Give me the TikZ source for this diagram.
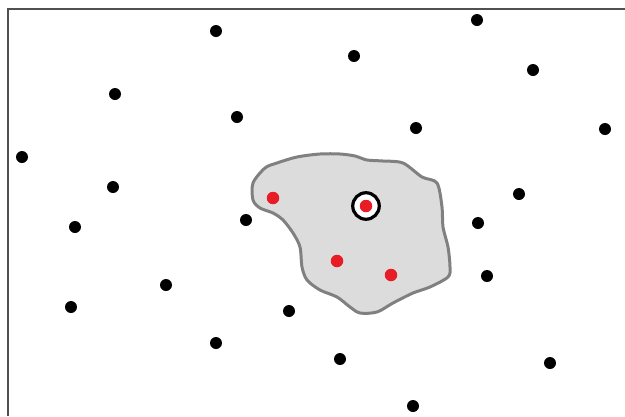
\documentclass[tikz,border=0pt]{standalone}
\usepackage{tikz}
\definecolor{framegray}{RGB}{80,80,80}
\definecolor{blobline}{RGB}{128,128,128}
\definecolor{blobfill}{RGB}{220,220,220}
\definecolor{ptred}{RGB}{232,28,36}

\begin{document}
\begin{tikzpicture}[x=1pt,y=-1pt,
  dot/.style={circle,fill=black,inner sep=0pt,minimum size=12pt},
  reddot/.style={circle,fill=ptred,inner sep=0pt,minimum size=12.5pt},
  ring/.style={circle,draw=black,line width=3.2pt,fill=white,inner sep=0pt,minimum size=26.5pt}]
\useasboundingbox (0,0) rectangle (625,416);
\draw[framegray,line width=1.5pt] (8,416) -- (8,9) -- (625,9);
% region
\draw[blobline,fill=blobfill,line width=3pt] plot[smooth cycle,tension=0.5] coordinates {
  (253,183) (265,168) (277,163) (297,157) (320,154) (340,154) (355,156)
  (367,160) (383,161) (403,163) (422,177) (437,183) (442,207) (443,227)
  (448,247) (450,267) (448,277) (430,287) (413,293) (393,303) (377,312)
  (360,313) (350,307) (337,297) (320,290) (307,280) (302,267) (300,247)
  (293,233) (283,220) (273,213) (260,208) (253,200)};
% points
\foreach \x/\y [count=\i] in {216/31, 477/20, 354/56, 533/70, 115/94, 237/117,
  416/128, 605/129, 22/157, 113/187, 519/194, 246/220, 478/223, 75/227,
  487/276, 166/285, 71/307, 289/311, 216/343, 340/359, 550/363, 413/406}
  \node[dot] (p\i) at (\x,\y) {};
\node[ring] (q) at (366,206) {};
\node[reddot] (r1) at (q) {};
\node[reddot] (r2) at (273,198) {};
\node[reddot] (r3) at (337,261) {};
\node[reddot] (r4) at (391,275) {};
\end{tikzpicture}
\end{document}
